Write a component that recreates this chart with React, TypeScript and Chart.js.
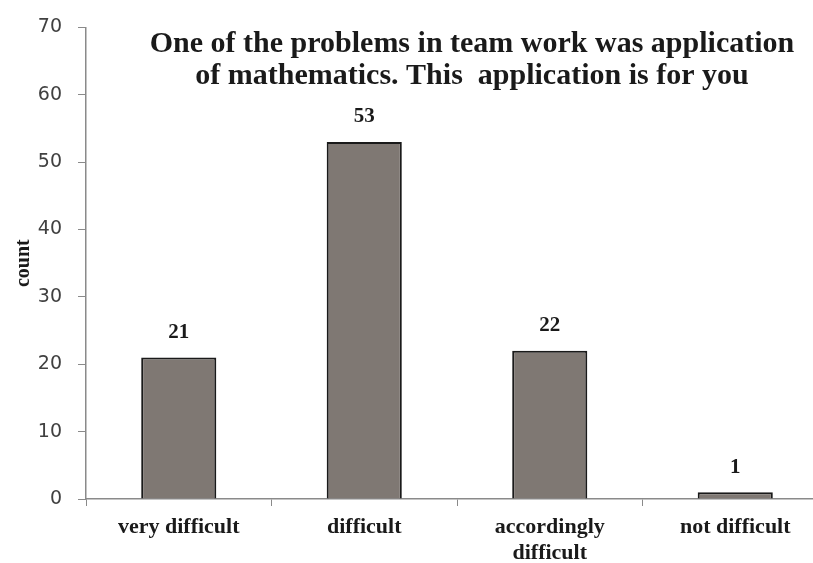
import React, { useEffect, useRef } from "react";
import { Chart, registerables } from "chart.js";

Chart.register(...registerables);

const categories: (string | string[])[] = ["very difficult", "difficult", ["accordingly", "difficult"], "not difficult"];
const counts: number[] = [21, 53, 22, 1];
const titleLines: string[] = [
  "One of the problems in team work was application",
  "of mathematics. This  application is for you",
];
const yTitle = "count";
const yMin = 0;
const yMax = 70;
const yStep = 10;

const SERIF = "'Liberation Serif', 'Times New Roman', serif";

const overlayPlugin = {
  id: "overlay",
  afterDatasetsDraw(chart: any) {
    const ctx = chart.ctx;
    const meta = chart.getDatasetMeta(0);
    ctx.save();
    ctx.fillStyle = "#1a1a1a";
    ctx.font = `bold 21px ${SERIF}`;
    ctx.textAlign = "center";
    ctx.textBaseline = "middle";
    meta.data.forEach((bar: any, i: number) => {
      ctx.fillText(String(counts[i]), bar.x, bar.y - 25);
    });
    ctx.restore();
  },
  afterDraw(chart: any) {
    const ctx = chart.ctx;
    ctx.save();
    ctx.fillStyle = "#1a1a1a";
    ctx.font = `bold 30px ${SERIF}`;
    ctx.textAlign = "center";
    ctx.textBaseline = "middle";
    ctx.fillText(titleLines[0], 472, 44);
    ctx.fillText(titleLines[1], 472, 76);
    ctx.restore();
  },
};

export default function App() {
  const ref = useRef<HTMLCanvasElement | null>(null);
  useEffect(() => {
    if (!ref.current) return;
    const chart = new Chart(ref.current, {
      type: "bar",
      data: {
        labels: categories as any,
        datasets: [
          {
            data: counts,
            backgroundColor: "#7f7873",
            borderColor: "#1a1a1a",
            borderWidth: 2,
            barPercentage: 0.405,
            categoryPercentage: 1,
          },
        ],
      },
      options: {
        animation: false,
        responsive: false,
        maintainAspectRatio: false,
        layout: { padding: { top: 21, right: 12, left: 0, bottom: 0 } },
        plugins: {
          legend: { display: false },
          tooltip: { enabled: false },
          title: { display: false },
        },
        scales: {
          x: {
            grid: {
              display: true,
              offset: true,
              drawOnChartArea: false,
              drawTicks: true,
              tickLength: 7,
              color: "#8a8a8a",
            },
            border: { display: true, color: "#8a8a8a", width: 1.5 },
            ticks: {
              color: "#1a1a1a",
              font: { family: SERIF, size: 22, weight: "bold", lineHeight: 1.15 },
              padding: 9,
              maxRotation: 0,
              autoSkip: false,
            },
            afterFit(scale: any) {
              scale.height = 64;
            },
          },
          y: {
            min: yMin,
            max: yMax,
            ticks: {
              stepSize: yStep,
              color: "#404040",
              font: { family: "'DejaVu Sans', sans-serif", size: 19 },
              padding: 16,
            },
            grid: {
              display: true,
              drawOnChartArea: false,
              drawTicks: true,
              tickLength: 8,
              color: "#8a8a8a",
            },
            border: { display: true, color: "#8a8a8a", width: 1.5 },
            title: {
              display: true,
              text: yTitle,
              color: "#1a1a1a",
              font: { family: SERIF, size: 20, weight: "bold" },
              padding: { top: 12, bottom: 0 },
            },
            afterFit(scale: any) {
              scale.width = 86;
            },
          },
        },
      },
      plugins: [overlayPlugin],
    });
    return () => chart.destroy();
  }, []);
  return (
    <div
      style={{
        position: "fixed",
        left: 0,
        top: 0,
        width: 813,
        height: 563,
        overflow: "hidden",
        background: "#ffffff",
      }}
    >
      <canvas ref={ref} width={840} height={563} style={{ display: "block", width: 840, height: 563 }} />
    </div>
  );
}
